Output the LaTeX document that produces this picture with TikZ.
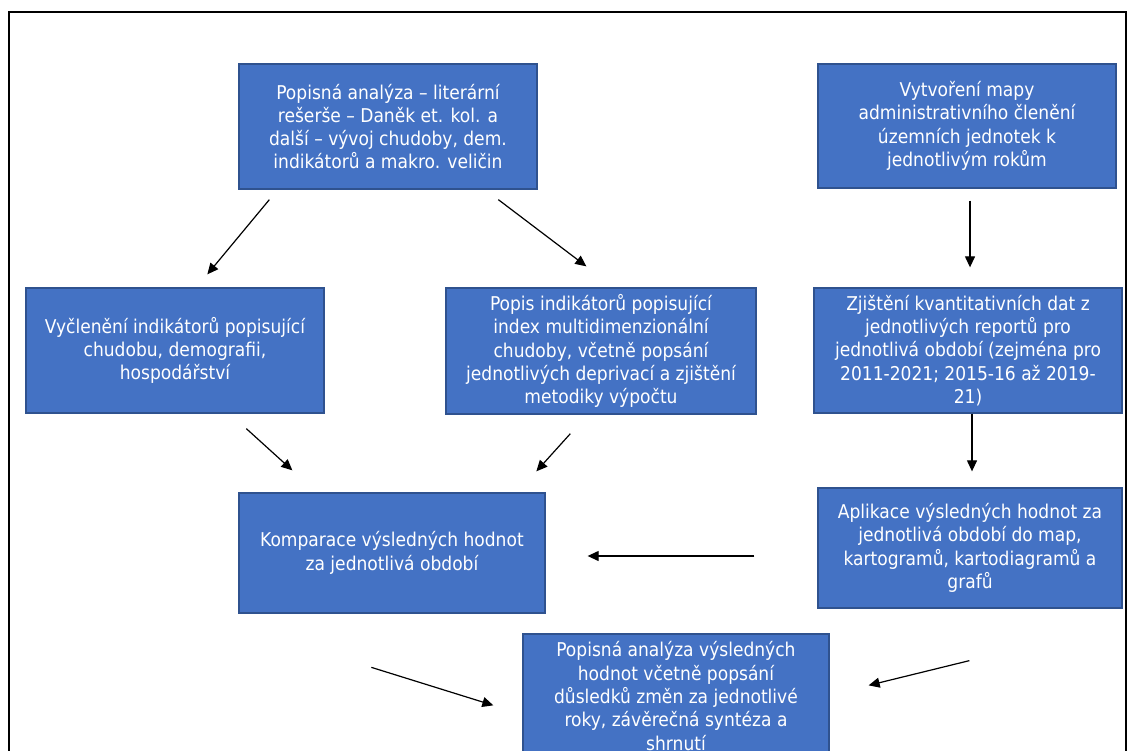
\documentclass[tikz,border=0pt]{standalone}
\usepackage{fontspec}
\setmainfont{DejaVu Sans Condensed}
\usetikzlibrary{arrows.meta,calc}
\definecolor{boxfill}{HTML}{4472C4}
\definecolor{boxline}{HTML}{2F528F}
\tikzset{
  box/.style={draw=boxline, line width=1.3pt, fill=boxfill, text=white, align=center,
    inner sep=0pt, font=\fontsize{19}{23.3}\selectfont},
  arr/.style={draw=black, line width=1.2pt, -{Triangle[length=11pt,width=10pt]}},
  frameline/.style={draw=black, line width=2pt}
}
\begin{document}
\begin{tikzpicture}[x=1pt,y=-1pt]
\useasboundingbox (0,0) rectangle (1132,751);
\clip (0,0) rectangle (1132,751);
\fill[white] (0,0) rectangle (1132,751);
\draw[frameline] (9,780) -- (9,12) -- (1126,12) -- (1126,780);

\node[box, minimum width=298, minimum height=125] (A) at (388,126.5)
  {Popisná analýza – literární\\rešerše – Daněk et. kol. a\\další – vývoj chudoby, dem.\\indikátorů a makro. veličin};
\node[box, minimum width=298, minimum height=124] (B) at (967,126)
  {Vytvoření mapy\\administrativního členění\\územních jednotek k\\jednotlivým rokům};
\node[box, minimum width=298, minimum height=125] (C) at (175,350.5)
  {Vyčlenění indikátorů popisující\\chudobu, demografii,\\hospodářství};
\node[box, minimum width=310, minimum height=126] (D) at (601,351)
  {Popis indikátorů popisující\\index multidimenzionální\\chudoby, včetně popsání\\jednotlivých deprivací a zjištění\\metodiky výpočtu};
\node[box, minimum width=308, minimum height=125] (E) at (968,350.5)
  {Zjištění kvantitativních dat z\\jednotlivých reportů pro\\jednotlivá období (zejména pro\\2011-2021; 2015-16 až 2019-\\21)};
\node[box, minimum width=304, minimum height=120] (F) at (970,548)
  {Aplikace výsledných hodnot za\\jednotlivá období do map,\\kartogramů, kartodiagramů a\\grafů};
\node[box, minimum width=306, minimum height=120] (G) at (392,553)
  {Komparace výsledných hodnot\\za jednotlivá období};
\node[box, minimum width=306, minimum height=124] (H) at (676,696)
  {Popisná analýza výsledných\\hodnot včetně popsání\\důsledků změn za jednotlivé\\roky, závěrečná syntéza a\\shrnutí};

\draw[arr] ([shift={(31,10)}]A.south west) -- ([shift={(182,-13)}]C.north west);
\draw[arr] ([shift={(260,10)}]A.south west) -- ([shift={(141,-21)}]D.north west);
\draw[arr] ([shift={(3,12)}]B.south) -- ([shift={(2,-20)}]E.north);
\draw[arr] ([shift={(221,15)}]C.south west) -- ([shift={(54,-22)}]G.north west);
\draw[arr] ([shift={(125,19)}]D.south west) -- ([shift={(298,-21)}]G.north west);
\draw[arr] ([shift={(4,0)}]E.south) -- ([shift={(2,-16)}]F.north);
\draw[arr] ([shift={(-63,8)}]F.west) -- ([shift={(42,3)}]G.east);
\draw[arr] ([shift={(-151,34)}]H.north west) -- ([shift={(-29,72)}]H.north west);
\draw[arr] ([shift={(152,52)}]F.south west) -- ([shift={(39,52)}]H.north east);
\end{tikzpicture}
\end{document}
